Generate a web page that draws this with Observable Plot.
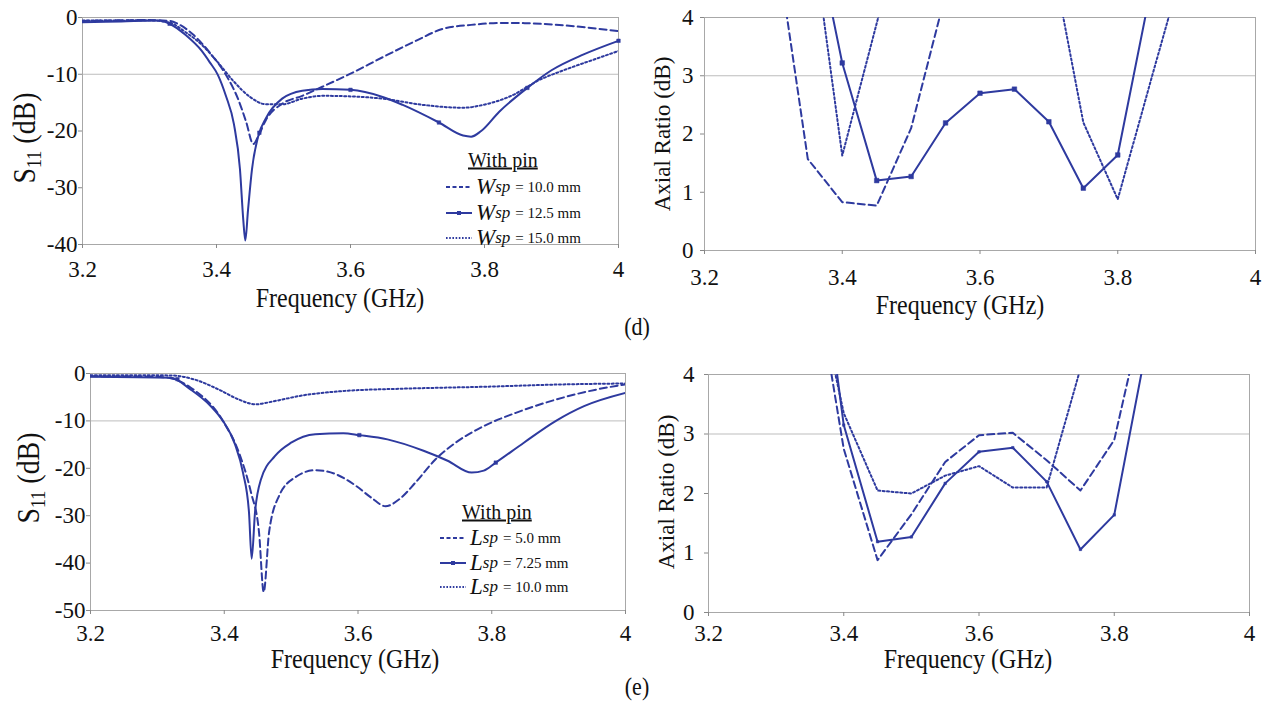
<!DOCTYPE html>
<html><head><meta charset="utf-8">
<script src="https://cdn.jsdelivr.net/npm/d3@7"></script>
<script src="https://cdn.jsdelivr.net/npm/@observablehq/plot@0.6"></script>
<style>
body{margin:0;background:#fff;}
#root{position:relative;width:1265px;height:701px;overflow:hidden;font-family:"Liberation Serif","DejaVu Serif",serif;color:#111;background:#fff;}
.p{position:absolute;}
.ylab{position:absolute;transform:translate(-50%,-50%) rotate(-90deg);white-space:nowrap;line-height:1;}
.xlab{position:absolute;transform:translate(-50%,-50%) scaleY(1.12);white-space:nowrap;font-size:24px;line-height:1;}
.lgt{position:absolute;transform:translateY(-50%);white-space:nowrap;font-size:20px;text-decoration:underline;}
.lgr{position:absolute;transform:translateY(-50%);white-space:nowrap;display:flex;align-items:center;}
.lgr i{font-size:23px;}
.lgr sub{font-size:17px;font-style:italic;vertical-align:-5px;}
.lgr span.v{font-size:15px;margin-left:5px;}
</style></head><body><div id="root"></div>
<script>
// ---------- data ----------
const xTicks = [3.2, 3.4, 3.6, 3.8, 4];
const s11TicksD = [0, -10, -20, -30, -40];
const s11TicksE = [0, -10, -20, -30, -40, -50];
const arTicks = [0, 1, 2, 3, 4];

// (d) S11 vs Wsp
const w10F = [3.2, 3.25, 3.3, 3.33, 3.342, 3.366, 3.39, 3.414, 3.432, 3.444, 3.455, 3.462, 3.474, 3.498, 3.528, 3.558, 3.6, 3.648, 3.696, 3.738, 3.78, 3.83, 3.86, 3.92, 4.0];
const w10S = [-0.6, -0.5, -0.45, -0.6, -1.1, -3.1, -6.2, -10.1, -14.3, -18.3, -22.3, -21, -18, -15.2, -13.8, -12.2, -9.9, -7, -4.2, -2, -1.3, -0.95, -1.0, -1.4, -2.4];
const w125F = [3.2, 3.258, 3.312, 3.33, 3.354, 3.378, 3.39, 3.402, 3.414, 3.426, 3.435, 3.44, 3.443, 3.447, 3.453, 3.462, 3.474, 3.498, 3.528, 3.558, 3.6, 3.648, 3.678, 3.732, 3.768, 3.78, 3.795, 3.822, 3.864, 3.9, 3.948, 4.0];
const w125S = [-0.85, -0.7, -0.55, -1.1, -3.1, -5.9, -7.9, -10.1, -13.8, -18.8, -26.7, -35.7, -39.3, -34, -26.7, -21, -17.7, -14.3, -12.9, -12.6, -12.75, -14, -15.4, -18.5, -20.8, -21, -20, -16.6, -12.4, -9.3, -6.5, -4.1];
const w125MarkF = [3.33, 3.464, 3.6, 3.732, 3.864, 4.0];
const w125MarkS = [-1.1, -20.3, -12.75, -18.5, -12.4, -4.1];
const w15F = [3.2, 3.3, 3.33, 3.354, 3.378, 3.402, 3.426, 3.45, 3.474, 3.498, 3.528, 3.558, 3.6, 3.648, 3.708, 3.768, 3.798, 3.84, 3.882, 3.918, 3.966, 4.0];
const w15S = [-0.55, -0.5, -0.9, -2.6, -4.8, -7.9, -11.3, -14, -15.3, -15.3, -14.3, -13.8, -13.9, -14.3, -15.4, -15.9, -15.4, -13.8, -11, -9.3, -7.3, -5.9];

// (d) Axial ratio vs Wsp
const w10ArF = [3.3, 3.35, 3.4, 3.45, 3.5, 3.55];
const w10Ar = [5.6, 1.57, 0.83, 0.77, 2.1, 4.4];
const w125ArF = [3.35, 3.4, 3.45, 3.5, 3.55, 3.6, 3.65, 3.7, 3.75, 3.8, 3.85];
const w125Ar = [6.1, 3.22, 1.2, 1.27, 2.19, 2.7, 2.77, 2.21, 1.07, 1.64, 4.6];
const w15ArF = [3.35, 3.4, 3.45, 3.5, 3.55, 3.6, 3.65, 3.7, 3.75, 3.8, 3.85, 3.9];
const w15Ar = [6.0, 1.63, 3.9, 6.2, null, null, null, 5.3, 2.2, 0.88, 3.0, 5.1];

// (e) S11 vs Lsp
const l5F = [3.2, 3.3, 3.32, 3.35, 3.398, 3.422, 3.44, 3.452, 3.459, 3.467, 3.482, 3.506, 3.536, 3.566, 3.596, 3.62, 3.641, 3.662, 3.686, 3.716, 3.746, 3.788, 3.836, 3.896, 3.956, 4.0];
const l5S = [-0.6, -0.7, -1.0, -3, -10, -16.7, -25.1, -33.5, -46.1, -33.5, -25.8, -21.9, -20.4, -21.2, -23.6, -26.2, -28, -26.5, -23, -18.1, -14.6, -11.1, -8.3, -5.5, -3.4, -2.3];
const l725F = [3.2, 3.32, 3.35, 3.38, 3.398, 3.416, 3.428, 3.437, 3.441, 3.446, 3.455, 3.476, 3.5, 3.536, 3.578, 3.602, 3.644, 3.698, 3.734, 3.77, 3.788, 3.806, 3.848, 3.896, 3.938, 4.0];
const l725S = [-0.7, -0.9, -3.4, -6.9, -10, -14.9, -20.9, -29.3, -39.1, -29.3, -22.3, -17.4, -14.6, -12.8, -12.6, -13, -13.9, -16.3, -18.4, -20.9, -20.5, -18.8, -14.6, -10, -6.9, -4.1];
const l725MarkF = [3.33, 3.602, 3.806];
const l725MarkS = [-1.2, -13, -18.8];
const l10F = [3.2, 3.32, 3.356, 3.392, 3.422, 3.446, 3.476, 3.518, 3.578, 3.668, 3.788, 3.908, 4.0];
const l10S = [-0.35, -0.4, -1.3, -3.4, -5.5, -6.5, -5.8, -4.6, -3.7, -3.2, -2.8, -2.3, -2.1];

// (e) Axial ratio vs Lsp
const l5ArF = [3.35, 3.4, 3.45, 3.5, 3.55, 3.6, 3.65, 3.7, 3.75, 3.8, 3.85];
const l5Ar = [6.2, 2.75, 0.88, 1.65, 2.53, 2.98, 3.02, 2.56, 2.05, 2.9, 5.4];
const l725ArF = [3.35, 3.4, 3.45, 3.5, 3.55, 3.6, 3.65, 3.7, 3.75, 3.8, 3.85];
const l725Ar = [7.5, 3.15, 1.19, 1.27, 2.17, 2.7, 2.77, 2.2, 1.06, 1.64, 4.6];
const l10ArF = [3.35, 3.4, 3.45, 3.5, 3.55, 3.6, 3.65, 3.7, 3.75];
const l10Ar = [6.0, 3.35, 2.05, 2.0, 2.3, 2.46, 2.1, 2.1, 4.1];

// ---------- drawing ----------
const C = "#2e3a9f";
const root = document.getElementById("root");
const DASH = "7,4", DOT = "2,2.4";
const FS = 23;
const zip = (f, v) => f.map((x, i) => ({x, y: v[i]}));

function panel(o) {
  const marks = [
    Plot.ruleY(o.grid, {stroke: "#bdbdbd", strokeWidth: 1}),
    Plot.frame({stroke: "#a8a8a8"}),
    Plot.axisX({ticks: xTicks, tickSize: 4, tickPadding: o.xpad, stroke: "#888", fontSize: FS,
      tickFormat: d => d === 4 ? "4" : d.toFixed(1), label: null}),
    Plot.axisY({ticks: o.yTicks, tickSize: 4, tickPadding: o.ypad, stroke: "#888", fontSize: FS,
      tickFormat: d => String(d), label: null})
  ];
  for (const s of o.series) {
    marks.push(Plot.line(zip(s.f, s.v), {x: "x", y: "y", stroke: C, strokeWidth: s.w || 2,
      strokeDasharray: s.dash, curve: o.curve, clip: true}));
    if (s.mf) marks.push(Plot.dot(zip(s.mf, s.mv), {x: "x", y: "y", symbol: "square",
      r: s.mr || 2, fill: C, stroke: C, strokeWidth: 0.5}));
  }
  const chart = Plot.plot({
    width: o.width, height: o.height,
    marginLeft: o.ml, marginRight: o.mr, marginTop: o.mt, marginBottom: o.mb,
    x: {domain: [3.2, 4]},
    y: {domain: o.yDomain},
    style: {fontFamily: "'Liberation Serif', 'DejaVu Serif', serif", fontSize: FS + "px", color: "#111", background: "transparent", overflow: "visible"},
    marks
  });
  chart.classList.add("p");
  chart.style.left = o.left + "px";
  chart.style.top = o.top + "px";
  root.appendChild(chart);
}

panel({left: 0, top: 0, width: 640, height: 300, ml: 82, mr: 22, mt: 17, mb: 56, xpad: 12, ypad: 1,
  yDomain: [-40, 0], yTicks: s11TicksD, grid: [-10], curve: "monotone-x",
  series: [
    {f: w10F, v: w10S, dash: DASH},
    {f: w125F, v: w125S, mf: w125MarkF, mv: w125MarkS},
    {f: w15F, v: w15S, dash: DOT}
  ]});
panel({left: 640, top: 0, width: 625, height: 300, ml: 64, mr: 10, mt: 17, mb: 50, xpad: 14, ypad: 7,
  yDomain: [0, 4], yTicks: arTicks, grid: [3], curve: "linear",
  series: [
    {f: w10ArF, v: w10Ar, dash: DASH},
    {f: w125ArF, v: w125Ar, mf: w125ArF.slice(1, 10), mv: w125Ar.slice(1, 10), mr: 2.6},
    {f: w15ArF, v: w15Ar, dash: DOT}
  ]});
panel({left: 0, top: 350, width: 640, height: 300, ml: 90, mr: 15, mt: 23, mb: 40, xpad: 10, ypad: 1,
  yDomain: [-50, 0], yTicks: s11TicksE, grid: [-10], curve: "monotone-x",
  series: [
    {f: l5F, v: l5S, dash: DASH},
    {f: l725F, v: l725S, mf: l725MarkF, mv: l725MarkS},
    {f: l10F, v: l10S, dash: DOT}
  ]});
panel({left: 640, top: 350, width: 625, height: 300, ml: 68, mr: 16, mt: 24, mb: 38, xpad: 8, ypad: 10,
  yDomain: [0, 4], yTicks: arTicks, grid: [3], curve: "linear",
  series: [
    {f: l5ArF, v: l5Ar, dash: DASH},
    {f: l725ArF, v: l725Ar, mf: l725ArF.slice(1, 10), mv: l725Ar.slice(1, 10), mr: 1.4},
    {f: l10ArF, v: l10Ar, dash: DOT}
  ]});

// ---------- text ----------
function add(cls, html, x, y, extra) {
  const d = document.createElement("div");
  d.className = cls; d.innerHTML = html;
  d.style.left = x + "px"; d.style.top = y + "px";
  if (extra) Object.assign(d.style, extra);
  root.appendChild(d);
  return d;
}
const s11 = 'S<sub style="font-size:20px;vertical-align:-6px">11</sub> (dB)';
const s11Style = {fontSize: "31px", transform: "translate(-50%,-50%) rotate(-90deg) scaleX(0.9)"};
add("ylab", s11, 26, 138, s11Style);
add("ylab", s11, 30, 478, s11Style);
add("ylab", "Axial Ratio (dB)", 662, 134, {fontSize: "23px"});
add("ylab", "Axial Ratio (dB)", 666, 492, {fontSize: "23px"});
add("xlab", "Frequency (GHz)", 340, 298);
add("xlab", "Frequency (GHz)", 960, 305);
add("xlab", "Frequency (GHz)", 355, 659);
add("xlab", "Frequency (GHz)", 968, 659);
add("xlab", "(d)", 637, 327, {fontSize: "22px"});
add("xlab", "(e)", 637, 687, {fontSize: "22px"});

const legendD = ["10.0 mm", "12.5 mm", "15.0 mm"];
const legendE = ["5.0 mm", "7.25 mm", "10.0 mm"];
function sample(kind) {
  const da = kind === 0 ? 'stroke-dasharray="4,2.5"' : kind === 2 ? 'stroke-dasharray="1.6,1.6"' : "";
  const m = kind === 1 ? `<rect x="11" y="3" width="4" height="4" fill="${C}"/>` : "";
  return `<svg width="26" height="10" style="margin-right:4px"><line x1="0" y1="5" x2="26" y2="5" stroke="${C}" stroke-width="2" ${da}/>${m}</svg>`;
}
function legend(x, y, sym, vals, rows) {
  add("lgt", "With pin", x + 22, y);
  vals.forEach((v, i) => {
    add("lgr", `${sample(i)}<i>${sym}</i><sub>sp</sub><span class="v">= ${v}</span>`, x, rows[i]);
  });
}
legend(446, 160, "W", legendD, [187, 213, 238]);
legend(440, 512, "L", legendE, [538, 563, 587]);
</script></body></html>
